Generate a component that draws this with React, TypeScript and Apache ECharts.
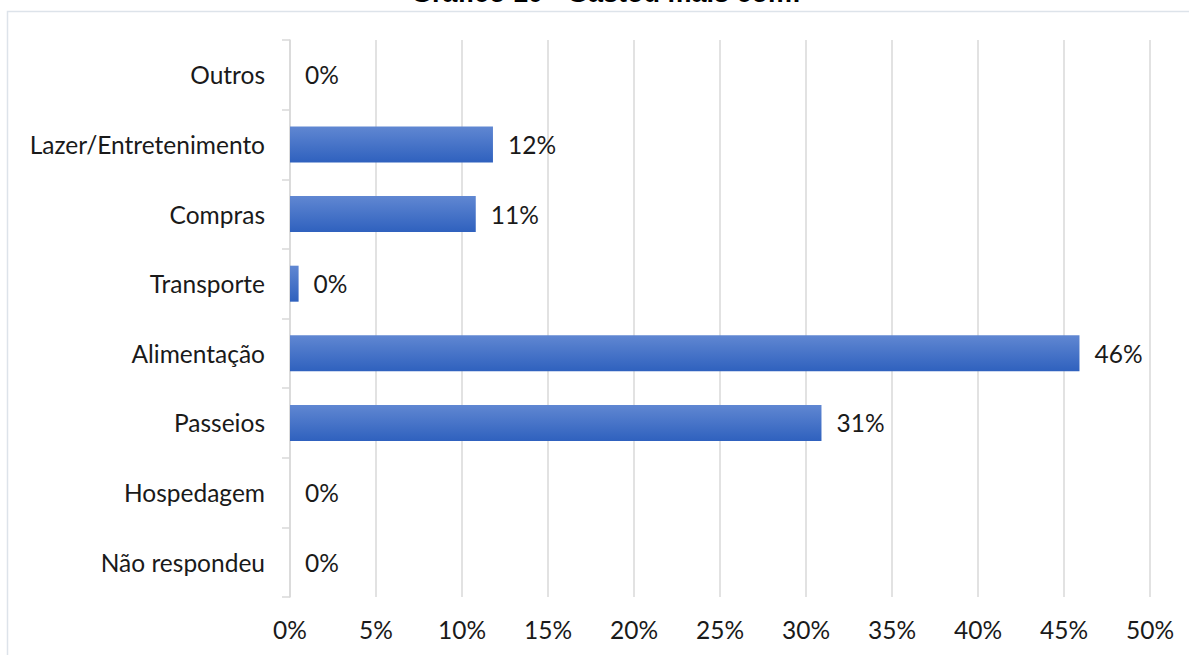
import React, { useEffect, useRef } from "react";
import * as echarts from "echarts";

const categories = [
  "Não respondeu",
  "Hospedagem",
  "Passeios",
  "Alimentação",
  "Transporte",
  "Compras",
  "Lazer/Entretenimento",
  "Outros",
];
const values = [0, 0, 30.9, 45.9, 0.5, 10.8, 11.8, 0];
const labels = ["0%", "0%", "31%", "46%", "0%", "11%", "12%", "0%"];
const xTicks = [0, 5, 10, 15, 20, 25, 30, 35, 40, 45, 50];
const title = "Gráfico 10 - Gastou mais com:";

export default function App() {
  const ref = useRef<HTMLDivElement>(null);
  useEffect(() => {
    if (!ref.current) return;
    const chart = echarts.init(ref.current, null, { renderer: "svg" });
    const font = "Lato";
    const fs = 24.5;
    chart.setOption({
      animation: false,
      backgroundColor: "#ffffff",
      graphic: [
        {
          type: "rect",
          shape: { x: 7.5, y: 11.5, width: 1200, height: 700 },
          style: { fill: "none", stroke: "#dde3ea", lineWidth: 1.5 },
          silent: true,
        },
        {
          type: "text",
          x: 606,
          y: -7,
          style: {
            text: title,
            fontFamily: "Liberation Sans",
            fontWeight: "bold",
            fontSize: 27,
            fill: "#000000",
            align: "center",
            verticalAlign: "middle",
          },
        },
      ],
      grid: { left: 290, right: 39, top: 40, bottom: 58 },
      xAxis: {
        type: "value",
        min: xTicks[0],
        max: xTicks[xTicks.length - 1],
        interval: 5,
        axisLine: { show: false },
        axisTick: { show: false },
        splitLine: { show: true, lineStyle: { color: "#d9d9d9", width: 1.5 } },
        axisLabel: {
          margin: 20,
          formatter: (v: number) => `${v}%`,
          fontFamily: font,
          fontSize: fs,
          color: "#1a1a1a",
        },
      },
      yAxis: {
        type: "category",
        data: categories,
        axisLine: { show: true, lineStyle: { color: "#d9d9d9", width: 1.5 } },
        axisTick: { show: true, length: 8, lineStyle: { color: "#d9d9d9", width: 1.5 } },
        axisLabel: {
          margin: 25,
          fontFamily: font,
          fontSize: fs,
          color: "#1a1a1a",
        },
      },
      series: [
        {
          type: "bar",
          data: values,
          barWidth: 36,
          itemStyle: {
            color: new echarts.graphic.LinearGradient(0, 0, 0, 1, [
              { offset: 0, color: "#6087d2" },
              { offset: 1, color: "#2f61be" },
            ]),
          },
          label: {
            show: true,
            position: "right",
            distance: 15,
            formatter: (p: any) => labels[p.dataIndex],
            fontFamily: font,
            fontSize: fs,
            color: "#1a1a1a",
          },
        },
      ],
    });
    return () => chart.dispose();
  }, []);
  return (
    <div
      ref={ref}
      style={{ position: "fixed", left: 0, top: 0, width: 1189, height: 655 }}
    />
  );
}
